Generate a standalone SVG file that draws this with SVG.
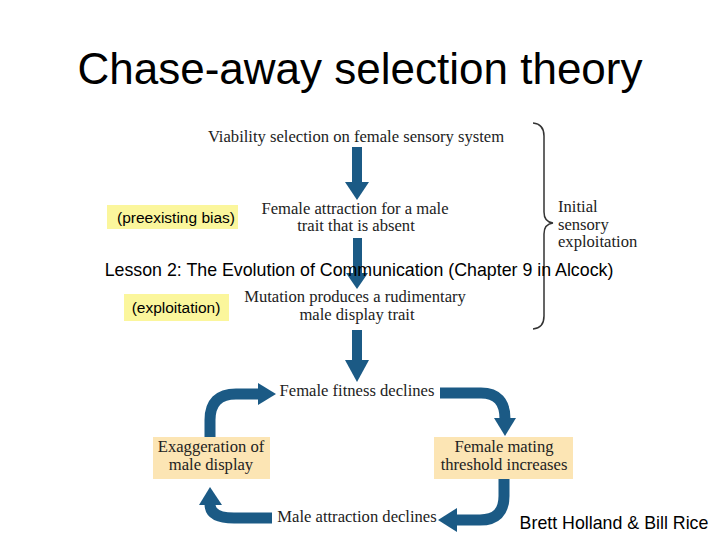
<svg xmlns="http://www.w3.org/2000/svg" width="720" height="540" viewBox="0 0 720 540">
<style>
.ser{font-family:"Liberation Serif","DejaVu Serif",serif;font-size:16.6px;fill:#222;text-anchor:middle}
.serl{font-family:"Liberation Serif","DejaVu Serif",serif;font-size:16.6px;fill:#222;text-anchor:start}
.sans{font-family:"Liberation Sans",Arial,sans-serif;fill:#000;text-anchor:middle}
.blue{fill:#1b5a85}
.bl{fill:none;stroke:#1b5a85;stroke-width:11}
.tan{fill:#fce5b4}
.yel{fill:#fbf69c}
</style>
<rect width="720" height="540" fill="#fff"/>
<text x="360" y="84" class="sans" font-size="44">Chase-away selection theory</text>

<g id="connectors">
  <rect x="352" y="147" width="10" height="36" class="blue"/>
  <polygon points="345,182 369,182 357,200" class="blue"/>
  <rect x="353" y="238" width="9" height="36" class="blue"/>
  <polygon points="346,273 368,273 357,289" class="blue"/>
  <rect x="352" y="330" width="10" height="31" class="blue"/>
  <polygon points="345,360 369,360 357,382" class="blue"/>
  <path d="M210,437 V420 Q210,394 236,394 H259" class="bl"/>
  <polygon points="258,383 276,394 258,405" class="blue"/>
  <path d="M440,393 H481 Q505,393 505,419" class="bl"/>
  <polygon points="494,418 516,418 505,436" class="blue"/>
  <path d="M504,478 V496 Q504,520 480,520 H456" class="bl"/>
  <polygon points="457,508 457,532 438,520" class="blue"/>
  <path d="M272,518 H234 Q210,518 210,504" class="bl"/>
  <polygon points="199,505 222,505 210,487" class="blue"/>
  <path d="M533,123 Q544,124 544,136 V212 Q544,222 553,223 Q544,224 544,234 V316 Q544,328 533,329" fill="none" stroke="#333" stroke-width="1.5"/>
</g>

<g id="n-viability"><text x="356" y="142" class="ser">Viability selection on female sensory system</text></g>
<g id="n-attraction"><text x="355" y="214" class="ser">Female attraction for a male</text><text x="356" y="231" class="ser">trait that is absent</text></g>
<g id="n-mutation"><text x="355" y="302" class="ser">Mutation produces a rudimentary</text><text x="357" y="320" class="ser">male display trait</text></g>
<g id="n-fitness"><text x="357" y="396" class="ser">Female fitness declines</text></g>
<g id="n-exag"><rect x="153" y="437" width="117" height="42" class="tan"/><text x="211" y="452" class="ser">Exaggeration of</text><text x="211" y="470" class="ser">male display</text></g>
<g id="n-threshold"><rect x="434" y="437" width="139" height="42" class="tan"/><text x="504" y="452" class="ser">Female mating</text><text x="504" y="470" class="ser">threshold increases</text></g>
<g id="n-male"><text x="357" y="522" class="ser">Male attraction declines</text></g>
<g id="n-initial"><text x="558" y="212" class="serl">Initial</text><text x="558" y="230" class="serl">sensory</text><text x="558" y="247" class="serl">exploitation</text></g>
<g id="n-bias"><rect x="107" y="205" width="131" height="24" class="yel"/><text x="176" y="223" class="sans" font-size="15.5">(preexisting bias)</text></g>
<g id="n-exploit"><rect x="124" y="294" width="105" height="27" class="yel"/><text x="176" y="313" class="sans" font-size="15.5">(exploitation)</text></g>
<text x="359" y="276" class="sans" font-size="17.8">Lesson 2: The Evolution of Communication (Chapter 9 in Alcock)</text>
<text x="614" y="529" class="sans" font-size="17.8">Brett Holland &amp; Bill Rice</text>
</svg>
